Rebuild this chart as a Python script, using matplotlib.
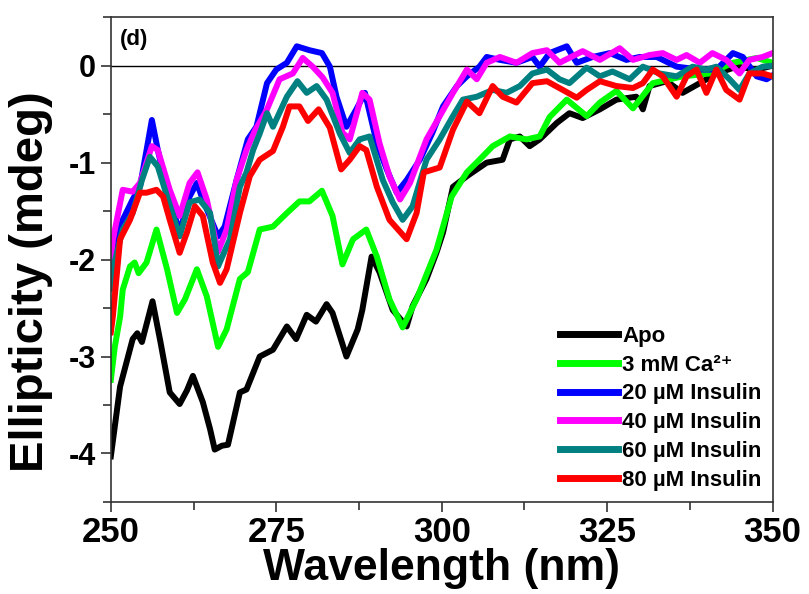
import matplotlib
matplotlib.use("Agg")
import matplotlib.pyplot as plt
from matplotlib.ticker import MultipleLocator

plt.rcParams['font.family'] = ['Liberation Sans', 'DejaVu Sans']
plt.rcParams['font.weight'] = 'bold'
plt.rcParams['axes.unicode_minus'] = False

# Apo
wl_apo = [250.0, 251.4, 253.3, 254.0, 254.7, 256.3, 257.5, 258.9, 260.4, 261.5, 262.4, 263.9,
          265.0, 265.7, 266.8, 267.7, 269.5, 270.5, 272.5, 274.5, 276.6, 278.0, 279.6, 281.0,
          282.6, 283.5, 285.6, 287.3, 288.0, 289.4, 290.6, 292.6, 294.7, 295.6, 297.7, 299.2,
          300.2, 301.7, 303.8, 306.8, 309.2, 310.3, 311.8, 313.3, 314.8, 317.4, 319.3, 321.3,
          323.9, 326.4, 329.4, 330.4, 331.4, 334.0, 336.4, 339.0, 341.5, 344.6, 347.6, 350.0]
el_apo = [-4.03, -3.31, -2.82, -2.76, -2.85, -2.43, -2.85, -3.37, -3.49, -3.35, -3.2, -3.47,
          -3.75, -3.96, -3.92, -3.91, -3.37, -3.34, -3.0, -2.93, -2.69, -2.82, -2.57, -2.64,
          -2.46, -2.55, -3.0, -2.72, -2.52, -1.97, -2.13, -2.52, -2.69, -2.48, -2.2, -1.93,
          -1.72, -1.25, -1.14, -1.0, -0.97, -0.76, -0.73, -0.83, -0.76, -0.59, -0.49, -0.54,
          -0.45, -0.35, -0.32, -0.45, -0.21, -0.16, -0.28, -0.18, -0.08, -0.01, -0.04, 0.0]

# 3 mM Ca2+
wl_ca = [250.0, 250.6, 251.4, 251.8, 252.9, 253.6, 254.2, 255.4, 256.9, 258.5, 260.0, 261.2,
         263.0, 264.5, 266.2, 267.5, 269.5, 270.7, 272.5, 274.5, 276.6, 278.5, 280.0, 281.9,
         283.5, 285.0, 286.6, 288.6, 290.2, 292.1, 294.1, 296.2, 299.2, 301.5, 303.8, 305.7,
         307.7, 310.3, 312.8, 314.8, 316.3, 318.9, 321.9, 323.9, 326.4, 328.9, 330.4, 331.9,
         336.4, 340.5, 344.0, 347.6, 350.0]
el_ca = [-3.24, -2.9, -2.59, -2.31, -2.07, -2.03, -2.14, -2.03, -1.69, -2.1, -2.55, -2.41,
         -2.1, -2.38, -2.9, -2.72, -2.2, -2.13, -1.69, -1.66, -1.52, -1.4, -1.4, -1.29,
         -1.55, -2.05, -1.79, -1.69, -1.97, -2.41, -2.7, -2.41, -1.9, -1.35, -1.1, -0.97,
         -0.83, -0.73, -0.76, -0.73, -0.53, -0.35, -0.52, -0.38, -0.26, -0.44, -0.31, -0.18,
         -0.11, -0.08, 0.03, 0.08, 0.03]

# 20 uM insulin
wl_20 = [250.0, 250.3, 251.8, 253.3, 254.4, 255.4, 256.2, 257.1, 258.5, 260.4, 261.9, 263.0,
         263.9, 266.2, 267.2, 269.0, 270.7, 272.0, 273.6, 275.0, 276.6, 278.1, 280.0, 281.9,
         283.1, 284.1, 285.6, 287.1, 288.4, 290.2, 291.7, 293.2, 294.7, 296.7, 298.6, 300.2,
         302.3, 303.8, 305.7, 306.8, 308.8, 311.3, 313.7, 314.8, 316.3, 318.9, 320.4, 322.8,
         325.4, 327.9, 329.9, 332.5, 335.5, 339.0, 341.5, 344.0, 345.5, 347.6, 349.1, 350.0]
el_20 = [-2.2, -1.93, -1.59, -1.38, -1.25, -0.87, -0.56, -0.87, -1.28, -1.72, -1.35, -1.21,
         -1.38, -1.76, -1.66, -1.18, -0.76, -0.63, -0.18, -0.04, 0.03, 0.2, 0.16, 0.13,
         -0.01, -0.32, -0.63, -0.45, -0.28, -0.8, -1.07, -1.31, -1.18, -0.97, -0.69, -0.42,
         -0.21, -0.11, -0.01, 0.09, 0.06, 0.03, 0.09, -0.01, 0.13, 0.2, 0.03, 0.09,
         0.13, 0.06, 0.09, 0.09, -0.01, -0.04, -0.04, 0.13, 0.09, -0.11, -0.14, -0.1]

# 40 uM insulin
wl_40 = [250.0, 250.3, 251.8, 253.3, 254.4, 256.2, 257.1, 258.9, 260.4, 261.9, 263.1, 264.5,
         266.2, 267.5, 269.0, 270.5, 271.7, 273.6, 275.5, 277.5, 279.0, 280.5, 282.0, 283.5,
         285.0, 286.1, 288.0, 289.1, 290.6, 292.1, 293.7, 295.2, 297.7, 299.7, 301.7, 303.8,
         305.3, 306.8, 308.8, 311.3, 313.7, 315.9, 317.8, 321.3, 323.9, 326.9, 328.9, 331.4,
         333.4, 335.5, 337.0, 339.0, 340.9, 343.0, 345.0, 346.5, 348.5, 350.0]
el_40 = [-2.0, -1.8, -1.28, -1.3, -1.21, -0.83, -0.87, -1.28, -1.55, -1.21, -1.1, -1.38,
         -1.92, -1.69, -1.18, -0.87, -0.68, -0.45, -0.14, -0.08, 0.08, -0.01, -0.12, -0.28,
         -0.69, -0.76, -0.28, -0.35, -0.8, -1.14, -1.38, -1.21, -0.76, -0.52, -0.28, -0.04,
         -0.14, 0.03, 0.09, 0.03, 0.13, 0.16, 0.03, 0.15, 0.06, 0.18, 0.06, 0.11,
         0.13, 0.06, 0.11, 0.03, 0.13, 0.06, -0.08, 0.06, 0.09, 0.13]

# 60 uM insulin
wl_60 = [250.0, 250.3, 251.8, 253.3, 254.7, 255.9, 257.1, 258.5, 260.4, 261.9, 263.4, 265.0,
         266.2, 268.0, 269.5, 270.5, 271.5, 272.5, 273.6, 274.5, 276.6, 278.2, 279.6, 281.1,
         282.6, 284.6, 286.1, 287.6, 289.1, 291.1, 292.6, 294.1, 295.6, 297.7, 299.7, 301.7,
         303.2, 305.3, 307.7, 309.8, 311.8, 313.7, 315.9, 317.8, 319.3, 321.9, 323.9, 325.8,
         328.4, 330.4, 332.9, 335.5, 337.9, 340.0, 341.5, 343.5, 345.0, 346.5, 348.5, 350.0]
el_60 = [-2.3, -2.1, -1.69, -1.52, -1.18, -0.94, -1.04, -1.35, -1.76, -1.41, -1.38, -1.52,
         -2.07, -1.79, -1.25, -1.1, -0.87, -0.7, -0.49, -0.63, -0.32, -0.16, -0.28, -0.21,
         -0.35, -0.7, -0.9, -0.76, -0.73, -1.18, -1.41, -1.59, -1.45, -0.97, -0.76, -0.52,
         -0.35, -0.32, -0.25, -0.28, -0.21, -0.08, -0.04, -0.14, -0.18, -0.02, -0.11, -0.06,
         -0.14, -0.01, -0.08, -0.11, -0.01, -0.04, -0.01, -0.14, -0.25, -0.08, -0.01, 0.0]

# 80 uM insulin
wl_80 = [250.0, 250.3, 251.4, 252.9, 254.4, 255.4, 256.9, 257.9, 258.9, 260.4, 261.5, 262.7,
         263.9, 265.4, 266.5, 267.5, 269.5, 271.0, 272.5, 274.5, 276.0, 277.0, 278.5, 279.8,
         281.4, 283.1, 284.8, 286.1, 287.6, 288.6, 290.2, 292.1, 294.7, 296.2, 297.3, 299.7,
         301.7, 303.8, 305.7, 307.7, 309.2, 311.3, 313.7, 315.9, 318.3, 320.4, 321.9, 323.9,
         326.4, 328.9, 330.4, 331.9, 333.4, 335.5, 337.0, 338.5, 340.0, 341.5, 343.0, 345.0,
         346.5, 348.5, 350.0]
el_80 = [-2.75, -2.59, -1.79, -1.59, -1.31, -1.31, -1.28, -1.35, -1.59, -1.93, -1.72, -1.45,
         -1.55, -2.03, -2.24, -2.1, -1.52, -1.14, -0.97, -0.88, -0.63, -0.42, -0.42, -0.57,
         -0.45, -0.64, -1.07, -0.97, -0.83, -0.87, -1.25, -1.59, -1.79, -1.52, -1.1, -1.05,
         -0.66, -0.37, -0.49, -0.21, -0.32, -0.38, -0.18, -0.16, -0.25, -0.33, -0.25, -0.16,
         -0.21, -0.23, -0.18, -0.04, -0.11, -0.32, -0.11, -0.04, -0.28, -0.04, -0.25, -0.35,
         -0.08, -0.08, -0.11]

series = [
    (wl_apo, el_apo, 'black', 'Apo'),
    (wl_ca, el_ca, '#00ff00', '3 mM Ca\u00b2\u207a'),
    (wl_20, el_20, '#0000ff', '20 \u00b5M Insulin'),
    (wl_40, el_40, '#ff00ff', '40 \u00b5M Insulin'),
    (wl_60, el_60, '#008080', '60 \u00b5M Insulin'),
    (wl_80, el_80, '#ff0000', '80 \u00b5M Insulin'),
]

fig = plt.figure(figsize=(8.09, 5.94), dpi=100)
ax = fig.add_axes([0.137, 0.155, 0.818, 0.816])

ax.axhline(0, color='black', lw=1.0, zorder=1)
for x, y, c, lab in series:
    ax.plot(x, y, color=c, lw=4.3, label=lab, solid_joinstyle='round', zorder=2)

ax.set_xlim(250, 350)
ax.set_ylim(-4.5, 0.5)
ax.xaxis.set_major_locator(MultipleLocator(25))
ax.xaxis.set_minor_locator(MultipleLocator(12.5))
ax.yaxis.set_major_locator(MultipleLocator(1))
ax.yaxis.set_minor_locator(MultipleLocator(0.5))
ax.tick_params(axis='both', which='both', direction='out', width=1.2, color='#333333')
ax.tick_params(axis='both', which='major', length=7)
ax.tick_params(axis='both', which='minor', length=6)
ax.tick_params(axis='x', labelsize=25, pad=3)
ax.tick_params(axis='y', labelsize=22, pad=4)
for lbl in ax.get_xticklabels() + ax.get_yticklabels():
    lbl.set_fontweight('bold')
for sp in ax.spines.values():
    sp.set_linewidth(1.2)
    sp.set_color('#333333')

ax.set_xlabel('Wavelength (nm)', fontsize=32, fontweight='bold')
ax.xaxis.set_label_coords(0.5, -0.095)
ax.set_ylabel('Ellipticity (mdeg)', fontsize=34, fontweight='bold')
ax.yaxis.set_label_coords(-0.088, 0.455)
ax.text(0.014, 0.975, '(d)', transform=ax.transAxes, fontsize=16, fontweight='bold',
        va='top', ha='left')

leg = ax.legend(loc='lower right', frameon=False, fontsize=16, handlelength=2.6,
                handletextpad=0.2, labelspacing=0.35, borderaxespad=0.1,
                bbox_to_anchor=(1.0, 0.0))
for line in leg.get_lines():
    line.set_linewidth(5)

fig.savefig('out.png', dpi=100)
